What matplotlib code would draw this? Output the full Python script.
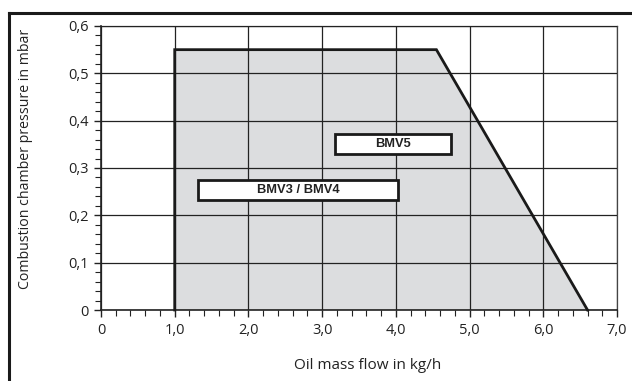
import matplotlib
matplotlib.use("Agg")
import matplotlib.pyplot as plt
from matplotlib.patches import Rectangle
from matplotlib.lines import Line2D
import numpy as np

# Data
boundary_x = [1.0, 1.0, 4.55, 6.6]
boundary_y = [0.0, 0.55, 0.55, 0.0]
x_ticks = [0, 1, 2, 3, 4, 5, 6, 7]
x_ticklabels = ["0", "1,0", "2,0", "3,0", "4,0", "5,0", "6,0", "7,0"]
y_ticks = [0, 0.1, 0.2, 0.3, 0.4, 0.5, 0.6]
y_ticklabels = ["0", "0,1", "0,2", "0,3", "0,4", "0,5", "0,6"]
box_labels = ["BMV5", "BMV3 / BMV4"]
box_x0 = [3.18, 1.32]
box_x1 = [4.75, 4.03]
box_y0 = [0.330, 0.232]
box_y1 = [0.372, 0.275]

plt.rcParams['font.family'] = ['Open Sans', 'DejaVu Sans']

fig = plt.figure(figsize=(6.32, 3.81), dpi=100)
ax = fig.add_axes([101/632, 1-310/381, (617-101)/632, (310-26)/381])

ax.fill(boundary_x, boundary_y, color="#dcdddf", zorder=1)
ax.set_xlim(0, 7)
ax.set_ylim(0, 0.6)
ax.set_xticks(x_ticks)
ax.set_xticklabels(x_ticklabels, fontsize=10.5, color="#222222")
ax.set_yticks(y_ticks)
ax.set_yticklabels(y_ticklabels, fontsize=10.5, color="#222222")
ax.set_xticks(np.arange(0, 7.01, 0.2), minor=True)
ax.set_yticks(np.arange(0, 0.601, 0.02), minor=True)
ax.tick_params(which="major", direction="out", length=5, width=1, color="#222222", pad=4)
ax.tick_params(which="minor", direction="out", length=4, width=0.8, color="#222222")
ax.grid(True, which="major", color="#222222", linewidth=0.9, zorder=2)
ax.set_axisbelow(False)
for s in ["top", "right"]:
    ax.spines[s].set_color("#444444")
    ax.spines[s].set_linewidth(0.9)
for s in ["left", "bottom"]:
    ax.spines[s].set_color("#222222")
    ax.spines[s].set_linewidth(1.2)

ax.plot(boundary_x, boundary_y, color="#1a1a1a", linewidth=2.0, zorder=4, clip_on=False,
        solid_joinstyle="miter")

for lab, x0, x1, y0, y1 in zip(box_labels, box_x0, box_x1, box_y0, box_y1):
    ax.add_patch(Rectangle((x0, y0), x1 - x0, y1 - y0, facecolor="white",
                           edgecolor="#1a1a1a", linewidth=2.0, zorder=5))
    ax.text((x0 + x1) / 2, (y0 + y1) / 2, lab, ha="center", va="center",
            fontsize=9.3, fontweight="bold", family=["Liberation Sans", "DejaVu Sans"],
            color="#222222", zorder=6)

ax.set_xlabel("Oil mass flow in kg/h", fontsize=11, color="#222222")
ax.set_ylabel("Combustion chamber pressure in mbar", fontsize=10.2, color="#222222")
ax.xaxis.set_label_coords(0.516, -0.17)
ax.yaxis.set_label_coords(-0.132, 0.532)

# outer frame (top and left)
fig.add_artist(Line2D([9/632, 1.0], [1-13/381, 1-13/381], color="#1a1a1a", linewidth=2.2,
                      transform=fig.transFigure))
fig.add_artist(Line2D([9/632, 9/632], [0, 1-13/381], color="#1a1a1a", linewidth=2.2,
                      transform=fig.transFigure))

fig.savefig("out.png", dpi=100)
